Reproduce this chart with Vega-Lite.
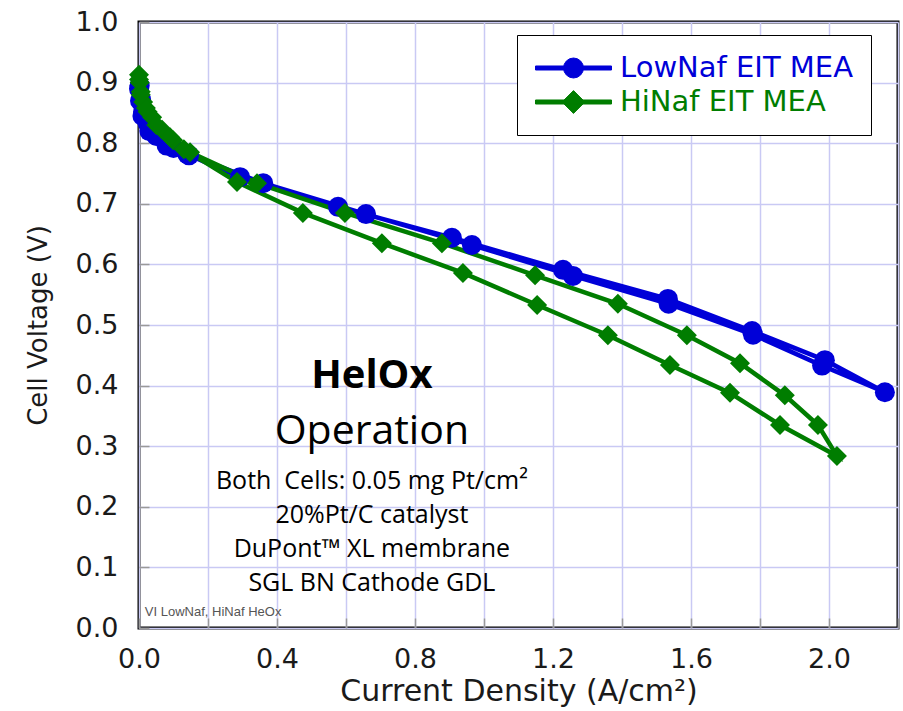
{
  "$schema": "https://vega.github.io/schema/vega-lite/v6.json",
  "width": 759,
  "height": 606,
  "autosize": {"type": "none"},
  "padding": {"left": 139, "top": 22, "right": 5, "bottom": 83},
  "background": "white",
  "config": {
    "view": {"stroke": "black", "strokeWidth": 3},
    "axis": {
      "labelFont": "DejaVu Sans",
      "labelFontSize": 27,
      "labelColor": "#1a1a1a",
      "titleFont": "DejaVu Sans",
      "titleFontSize": 26,
      "titleFontWeight": "normal",
      "titleColor": "#1a1a1a",
      "gridColor": "#c9c9f4",
      "gridWidth": 1.5,
      "gridOpacity": 1,
      "domain": false,
      "tickColor": "#9a9a9a",
      "tickWidth": 1.5
    }
  },
  "datasets": {
    "curves": [
      {"series": "LowNaf EIT MEA", "i": 1, "x": 0.002, "y": 0.895},
      {"series": "LowNaf EIT MEA", "i": 2, "x": 0.006, "y": 0.872},
      {"series": "LowNaf EIT MEA", "i": 3, "x": 0.012, "y": 0.852},
      {"series": "LowNaf EIT MEA", "i": 4, "x": 0.025, "y": 0.833},
      {"series": "LowNaf EIT MEA", "i": 5, "x": 0.05, "y": 0.812},
      {"series": "LowNaf EIT MEA", "i": 6, "x": 0.1, "y": 0.792},
      {"series": "LowNaf EIT MEA", "i": 7, "x": 0.145, "y": 0.78},
      {"series": "LowNaf EIT MEA", "i": 8, "x": 0.293, "y": 0.744},
      {"series": "LowNaf EIT MEA", "i": 9, "x": 0.577, "y": 0.695},
      {"series": "LowNaf EIT MEA", "i": 10, "x": 0.907, "y": 0.644},
      {"series": "LowNaf EIT MEA", "i": 11, "x": 1.229, "y": 0.591},
      {"series": "LowNaf EIT MEA", "i": 12, "x": 1.533, "y": 0.543},
      {"series": "LowNaf EIT MEA", "i": 13, "x": 1.777, "y": 0.49},
      {"series": "LowNaf EIT MEA", "i": 14, "x": 1.988, "y": 0.442},
      {"series": "LowNaf EIT MEA", "i": 15, "x": 2.162, "y": 0.389},
      {"series": "LowNaf EIT MEA", "i": 16, "x": 1.98, "y": 0.433},
      {"series": "LowNaf EIT MEA", "i": 17, "x": 1.78, "y": 0.484},
      {"series": "LowNaf EIT MEA", "i": 18, "x": 1.535, "y": 0.535},
      {"series": "LowNaf EIT MEA", "i": 19, "x": 1.258, "y": 0.581},
      {"series": "LowNaf EIT MEA", "i": 20, "x": 0.965, "y": 0.632},
      {"series": "LowNaf EIT MEA", "i": 21, "x": 0.658, "y": 0.683},
      {"series": "LowNaf EIT MEA", "i": 22, "x": 0.36, "y": 0.734},
      {"series": "LowNaf EIT MEA", "i": 23, "x": 0.14, "y": 0.782},
      {"series": "LowNaf EIT MEA", "i": 24, "x": 0.08, "y": 0.796},
      {"series": "LowNaf EIT MEA", "i": 25, "x": 0.03, "y": 0.82},
      {"series": "LowNaf EIT MEA", "i": 26, "x": 0.01, "y": 0.845},
      {"series": "LowNaf EIT MEA", "i": 27, "x": 0.003, "y": 0.87},
      {"series": "LowNaf EIT MEA", "i": 28, "x": 0.0, "y": 0.89},
      {"series": "HiNaf EIT MEA", "i": 1, "x": 0.0, "y": 0.913},
      {"series": "HiNaf EIT MEA", "i": 2, "x": 0.002, "y": 0.9},
      {"series": "HiNaf EIT MEA", "i": 3, "x": 0.005, "y": 0.885},
      {"series": "HiNaf EIT MEA", "i": 4, "x": 0.012, "y": 0.868},
      {"series": "HiNaf EIT MEA", "i": 5, "x": 0.025, "y": 0.852},
      {"series": "HiNaf EIT MEA", "i": 6, "x": 0.038, "y": 0.843},
      {"series": "HiNaf EIT MEA", "i": 7, "x": 0.067, "y": 0.822},
      {"series": "HiNaf EIT MEA", "i": 8, "x": 0.099, "y": 0.805},
      {"series": "HiNaf EIT MEA", "i": 9, "x": 0.148, "y": 0.785},
      {"series": "HiNaf EIT MEA", "i": 10, "x": 0.342, "y": 0.734},
      {"series": "HiNaf EIT MEA", "i": 11, "x": 0.597, "y": 0.685},
      {"series": "HiNaf EIT MEA", "i": 12, "x": 0.878, "y": 0.635},
      {"series": "HiNaf EIT MEA", "i": 13, "x": 1.148, "y": 0.582},
      {"series": "HiNaf EIT MEA", "i": 14, "x": 1.388, "y": 0.535},
      {"series": "HiNaf EIT MEA", "i": 15, "x": 1.588, "y": 0.483},
      {"series": "HiNaf EIT MEA", "i": 16, "x": 1.742, "y": 0.437},
      {"series": "HiNaf EIT MEA", "i": 17, "x": 1.872, "y": 0.384},
      {"series": "HiNaf EIT MEA", "i": 18, "x": 1.968, "y": 0.335},
      {"series": "HiNaf EIT MEA", "i": 19, "x": 2.023, "y": 0.284},
      {"series": "HiNaf EIT MEA", "i": 20, "x": 1.858, "y": 0.335},
      {"series": "HiNaf EIT MEA", "i": 21, "x": 1.713, "y": 0.388},
      {"series": "HiNaf EIT MEA", "i": 22, "x": 1.539, "y": 0.434},
      {"series": "HiNaf EIT MEA", "i": 23, "x": 1.359, "y": 0.483},
      {"series": "HiNaf EIT MEA", "i": 24, "x": 1.154, "y": 0.533},
      {"series": "HiNaf EIT MEA", "i": 25, "x": 0.939, "y": 0.586},
      {"series": "HiNaf EIT MEA", "i": 26, "x": 0.704, "y": 0.635},
      {"series": "HiNaf EIT MEA", "i": 27, "x": 0.475, "y": 0.685},
      {"series": "HiNaf EIT MEA", "i": 28, "x": 0.284, "y": 0.736},
      {"series": "HiNaf EIT MEA", "i": 29, "x": 0.13, "y": 0.79},
      {"series": "HiNaf EIT MEA", "i": 30, "x": 0.09, "y": 0.81},
      {"series": "HiNaf EIT MEA", "i": 31, "x": 0.05, "y": 0.83},
      {"series": "HiNaf EIT MEA", "i": 32, "x": 0.02, "y": 0.858},
      {"series": "HiNaf EIT MEA", "i": 33, "x": 0.005, "y": 0.88},
      {"series": "HiNaf EIT MEA", "i": 34, "x": 0.0, "y": 0.905}
    ]
  },
  "encoding": {
    "x": {
      "field": "x", "type": "quantitative",
      "scale": {"domain": [0, 2.2], "nice": false, "zero": false},
      "axis": {
        "title": "Current Density (A/cm²)",
        "titleFontSize": 30,
        "values": [0, 0.2, 0.4, 0.6, 0.8, 1.0, 1.2, 1.4, 1.6, 1.8, 2.0, 2.2],
        "labelExpr": "round(datum.value * 10) % 4 === 0 ? format(datum.value, '.1f') : ''",
        "tickSize": -10,
        "labelPadding": 28,
        "titlePadding": 4,
        "labelFlush": false
      }
    },
    "y": {
      "field": "y", "type": "quantitative",
      "scale": {"domain": [0, 1], "nice": false},
      "axis": {
        "title": "Cell Voltage (V)",
        "values": [0, 0.1, 0.2, 0.3, 0.4, 0.5, 0.6, 0.7, 0.8, 0.9, 1.0],
        "format": ".1f",
        "tickSize": -10,
        "labelPadding": 31,
        "titlePadding": 24,
        "labelFlush": false
      }
    },
    "color": {
      "field": "series", "type": "nominal",
      "scale": {"domain": ["LowNaf EIT MEA", "HiNaf EIT MEA"], "range": ["#0000d8", "#007d00"]},
      "legend": {
        "title": null,
        "orient": "none",
        "legendX": 378,
        "legendY": 13,
        "fillColor": "white",
        "strokeColor": "black",
        "padding": 18,
        "labelFont": "DejaVu Sans",
        "labelFontSize": 29,
        "labelOffset": 8,
        "labelLimit": 500,
        "symbolSize": 5776,
        "symbolStrokeWidth": 1,
        "symbolType": "M-1,-0.053H1V0.053H-1ZM0.263,0L0.243,0.101L0.186,0.186L0.101,0.243L0,0.263L-0.101,0.243L-0.186,0.186L-0.243,0.101L-0.263,0L-0.243,-0.101L-0.186,-0.186L-0.101,-0.243L0,-0.263L0.101,-0.243L0.186,-0.186L0.243,-0.101Z",
        "clipHeight": 30,
        "rowPadding": 4,
        "encode": {
          "symbols": {
            "update": {
              "shape": {"signal": "datum.value === 'LowNaf EIT MEA' ? 'M-1,-0.053H1V0.053H-1ZM0.263,0L0.243,0.101L0.186,0.186L0.101,0.243L0,0.263L-0.101,0.243L-0.186,0.186L-0.243,0.101L-0.263,0L-0.243,-0.101L-0.186,-0.186L-0.101,-0.243L0,-0.263L0.101,-0.243L0.186,-0.186L0.243,-0.101Z' : 'M-1,-0.053H1V0.053H-1ZM0,-0.3L0.3,0L0,0.3L-0.3,0Z'"},
              "fill": {"signal": "datum.value === 'LowNaf EIT MEA' ? '#0000d8' : '#007d00'"},
              "stroke": {"signal": "datum.value === 'LowNaf EIT MEA' ? '#0000d8' : '#007d00'"},
              "strokeWidth": {"value": 1},
              "size": {"value": 5776},
              "opacity": {"value": 1},
              "fillOpacity": {"value": 1}
            }
          },
          "labels": {
            "update": {
              "fill": {"signal": "datum.value === 'LowNaf EIT MEA' ? '#0000d8' : '#007d00'"}
            }
          }
        }
      }
    }
  },
  "layer": [
    {
      "data": {"name": "curves"},
      "mark": {"type": "line", "strokeWidth": 4.5, "clip": false},
      "encoding": {
        "detail": {"field": "series"},
        "order": {"field": "i", "type": "quantitative"}
      }
    },
    {
      "data": {"name": "curves"},
      "transform": [{"filter": "datum.series === 'LowNaf EIT MEA'"}],
      "mark": {"type": "point", "shape": "circle", "filled": true, "opacity": 1, "size": 400, "clip": false},
      "encoding": {}
    },
    {
      "data": {"name": "curves"},
      "transform": [{"filter": "datum.series === 'HiNaf EIT MEA'"}],
      "mark": {"type": "point", "shape": "diamond", "filled": true, "opacity": 1, "size": 400, "clip": false},
      "encoding": {}
    },
    {
      "data": {"values": [{"t": "HelOx", "x": 0.675, "y": 0.416}]},
      "mark": {"type": "text", "font": "Open Sans", "fontSize": 40, "fontWeight": "bold", "color": "black", "align": "center", "baseline": "middle"},
      "encoding": {"text": {"field": "t"}, "color": {"value": "black"}}
    },
    {
      "data": {"values": [{"t": "Operation", "x": 0.675, "y": 0.323}]},
      "mark": {"type": "text", "font": "Open Sans", "fontSize": 41, "color": "black", "align": "center", "baseline": "middle"},
      "encoding": {"text": {"field": "t"}, "color": {"value": "black"}}
    },
    {
      "data": {"values": [
        {"t": "Both\u00a0 Cells: 0.05 mg Pt/cm²", "x": 0.675, "y": 0.243},
        {"t": "20%Pt/C catalyst", "x": 0.675, "y": 0.186},
        {"t": "DuPont™ XL membrane", "x": 0.675, "y": 0.13},
        {"t": "SGL BN Cathode GDL", "x": 0.675, "y": 0.074}
      ]},
      "mark": {"type": "text", "font": "Open Sans", "fontSize": 25, "color": "black", "align": "center", "baseline": "middle"},
      "encoding": {"text": {"field": "t"}, "color": {"value": "black"}}
    },
    {
      "data": {"values": [{"t": "VI LowNaf, HiNaf HeOx", "x": 0.017, "y": 0.026}]},
      "mark": {"type": "text", "font": "Liberation Sans", "fontSize": 13, "color": "#555555", "align": "left", "baseline": "middle"},
      "encoding": {"text": {"field": "t"}, "color": {"value": "#555555"}}
    }
  ]
}
